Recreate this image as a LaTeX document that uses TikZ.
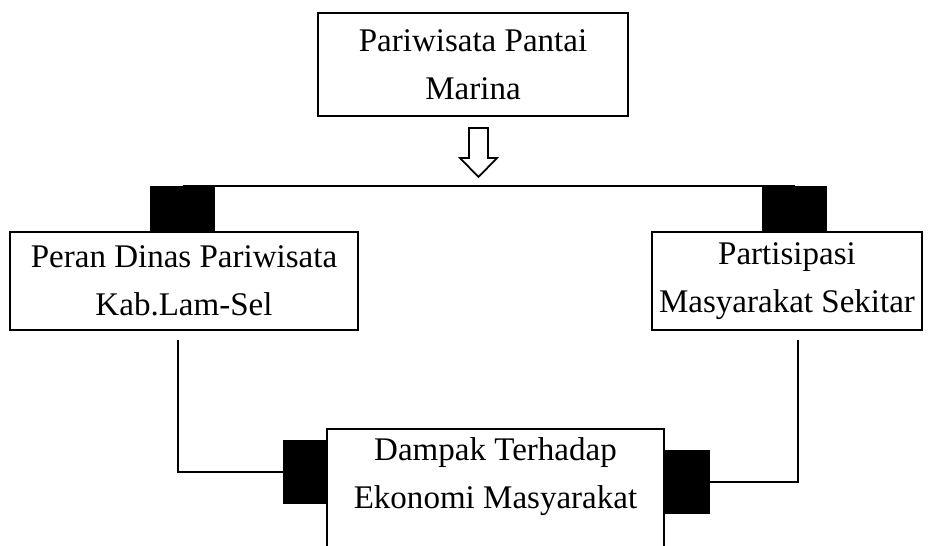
\documentclass[tikz,border=0pt]{standalone}
\usepackage{fontspec}
\setmainfont{Liberation Serif}
\usetikzlibrary{positioning}
\tikzstyle{box} = [rectangle, draw, line width=1.1pt, text centered, align=center, inner sep=0pt]
\tikzstyle{tab} = [rectangle, fill=black, inner sep=0pt]
\tikzstyle{connector} = [draw, line width=1.1pt]
\tikzset{
  hollowarrow/.style={
    draw,
    fill=white,
    line width=1pt,
    line join=miter},
  bigtext/.style={
    font=\fontsize{18.8}{27.4}\selectfont}
}

\begin{document}
\begin{tikzpicture}[x=0.02cm, y=-0.02cm, bigtext]
      \useasboundingbox (0,0) rectangle (931,546);
      \clip (0,0) rectangle (931,546);
      % Define nodes at coordinates
      \node (wisata) [box, minimum width=6.2cm, minimum height=2.06cm] at (473,64.5) {Pariwisata Pantai\\Marina};
      \node (peran) [box, minimum width=6.96cm, minimum height=1.96cm] at (184,281) {Peran Dinas Pariwisata\\Kab.Lam-Sel};
      \node (partisipasi) [box, minimum width=5.4cm, minimum height=1.96cm] at (787,281) {Partisipasi\\Masyarakat Sekitar};
      \node (dampak) [align=center, inner sep=0pt, minimum width=6.74cm, minimum height=1.9cm] at (495.5,476.5) {Dampak Terhadap\\Ekonomi Masyarakat};
      \node (tabA) [tab, minimum width=1.3cm, minimum height=0.9cm] at (182.5,208.5) {};
      \node (tabB) [tab, minimum width=1.3cm, minimum height=0.9cm] at (794.5,208.5) {};
      \node (tabC) [tab, minimum width=0.88cm, minimum height=1.28cm] at (305,472) {};
      \node (tabD) [tab, minimum width=0.92cm, minimum height=1.28cm] at (687,482) {};
      \coordinate (arrowtop) at (478.5,128);
      \coordinate (peranout) at (178,340);
      \coordinate (partout) at (798,340);
      \coordinate (bottom) at (0,560);

      % Draw the open box and the hollow arrow
      \draw [connector] (dampak.west |- bottom) -- (dampak.north west) -- (dampak.north east) -- (dampak.east |- bottom);
      \draw [hollowarrow] (arrowtop) ++(-9.5,0) -- ++(0,30) -- ++(-9,0) -- ++(18.5,19) -- ++(18.5,-19) -- ++(-9,0) -- ++(0,-30) -- cycle;

      % Draw connectors
      \draw [connector] (tabA.north) -- (tabB.north);
      \draw [connector] (peranout) |- (tabC.west);
      \draw [connector] (partout) -- ++(0,143);
      \draw [connector] (tabD.east) -- (tabD.east -| partout);
    \end{tikzpicture}
\end{document}
